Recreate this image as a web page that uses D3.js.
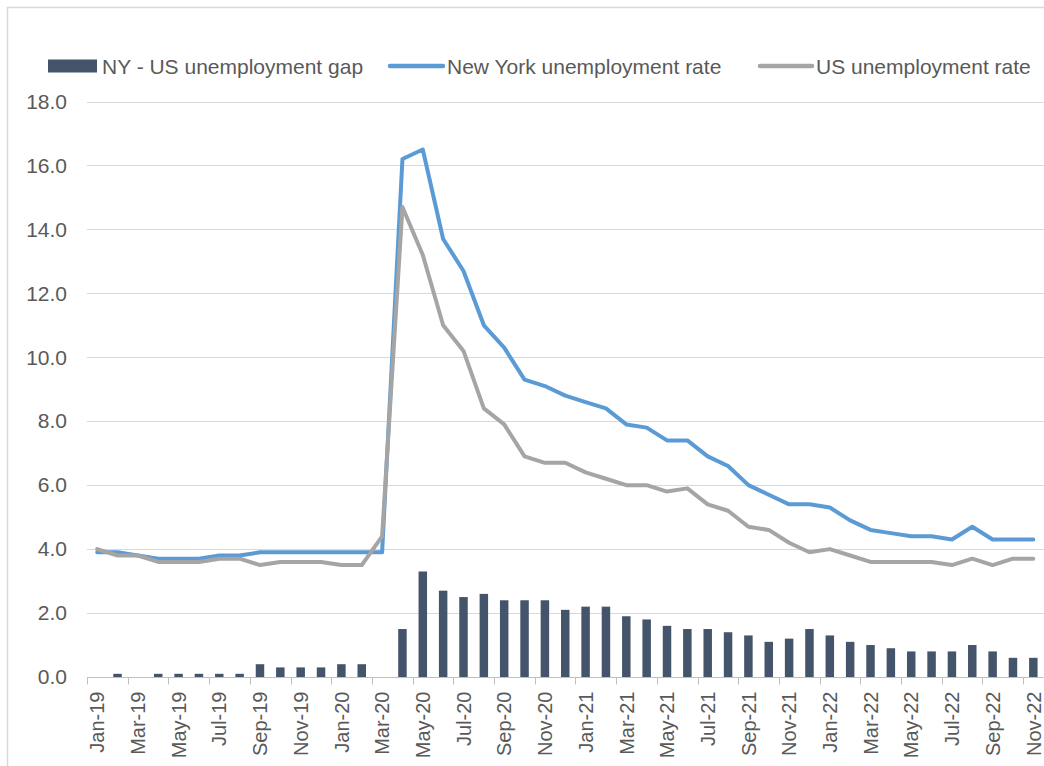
<!DOCTYPE html>
<html>
<head>
<meta charset="utf-8">
<script src="https://cdn.jsdelivr.net/npm/d3@7"></script>
<style>
  html, body { margin: 0; padding: 0; background: #fff; }
  svg { display: block; font-family: "Liberation Sans", Arial, sans-serif; }
</style>
</head>
<body>
<svg id="chart" width="1044" height="766"></svg>
<script>
const months = ["Jan-19","Feb-19","Mar-19","Apr-19","May-19","Jun-19","Jul-19","Aug-19","Sep-19","Oct-19","Nov-19","Dec-19",
  "Jan-20","Feb-20","Mar-20","Apr-20","May-20","Jun-20","Jul-20","Aug-20","Sep-20","Oct-20","Nov-20","Dec-20",
  "Jan-21","Feb-21","Mar-21","Apr-21","May-21","Jun-21","Jul-21","Aug-21","Sep-21","Oct-21","Nov-21","Dec-21",
  "Jan-22","Feb-22","Mar-22","Apr-22","May-22","Jun-22","Jul-22","Aug-22","Sep-22","Oct-22","Nov-22"];

const nyRate = [3.9,3.9,3.8,3.7,3.7,3.7,3.8,3.8,3.9,3.9,3.9,3.9,
  3.9,3.9,3.9,16.2,16.5,13.7,12.7,11.0,10.3,9.3,9.1,8.8,
  8.6,8.4,7.9,7.8,7.4,7.4,6.9,6.6,6.0,5.7,5.4,5.4,
  5.3,4.9,4.6,4.5,4.4,4.4,4.3,4.7,4.3,4.3,4.3];

const usRate = [4.0,3.8,3.8,3.6,3.6,3.6,3.7,3.7,3.5,3.6,3.6,3.6,
  3.5,3.5,4.4,14.7,13.2,11.0,10.2,8.4,7.9,6.9,6.7,6.7,
  6.4,6.2,6.0,6.0,5.8,5.9,5.4,5.2,4.7,4.6,4.2,3.9,
  4.0,3.8,3.6,3.6,3.6,3.6,3.5,3.7,3.5,3.7,3.7];

const gap = [0.0,0.1,0.0,0.1,0.1,0.1,0.1,0.1,0.4,0.3,0.3,0.3,
  0.4,0.4,0.0,1.5,3.3,2.7,2.5,2.6,2.4,2.4,2.4,2.1,
  2.2,2.2,1.9,1.8,1.6,1.5,1.5,1.4,1.3,1.1,1.2,1.5,
  1.3,1.1,1.0,0.9,0.8,0.8,0.8,1.0,0.8,0.6,0.6];

const yTicks = [0,2,4,6,8,10,12,14,16,18];

const seriesNames = ["NY - US unemployment gap","New York unemployment rate","US unemployment rate"];
const colors = { gap: "#44546A", ny: "#5B9BD5", us: "#A5A5A5" };

const svg = d3.select("#chart");

// chart border
svg.append("path")
  .attr("d", "M7.5,766 V7.5 H1044")
  .attr("fill", "none").attr("stroke", "#d9d9d9").attr("stroke-width", 1.5);

const pLeft = 87, pRight = 1043.5, pTop = 101.5, pBottom = 677;

const x = d3.scaleBand().domain(months).range([pLeft, pRight]).paddingInner(0).paddingOuter(0);
const y = d3.scaleLinear().domain([0, 18]).range([pBottom, pTop]);

// gridlines
svg.append("g").selectAll("line").data(yTicks.filter(d => d > 0)).join("line")
  .attr("x1", pLeft).attr("x2", pRight)
  .attr("y1", d => Math.round(y(d)) + 0.5).attr("y2", d => Math.round(y(d)) + 0.5)
  .attr("stroke", "#d9d9d9").attr("stroke-width", 1);

// y axis labels
const yAxis = d3.axisLeft(y).tickValues(yTicks).tickFormat(d3.format(".1f")).tickSize(0).tickPadding(0);
const yg = svg.append("g").attr("transform", `translate(67,0)`).call(yAxis);
yg.select(".domain").remove();
yg.selectAll("text").attr("fill", "#595959").style("font-size", "21px")
  .style("font-family", '"Liberation Sans", Arial, sans-serif');

// bars
const bw = x.bandwidth() / 2.4;
svg.append("g").selectAll("rect").data(months).join("rect")
  .attr("x", (d) => x(d) + (x.bandwidth() - bw) / 2)
  .attr("width", bw)
  .attr("y", (d, i) => y(Math.max(0, gap[i])))
  .attr("height", (d, i) => y(0) - y(Math.max(0, gap[i])))
  .attr("fill", colors.gap);

// x axis
const xAxis = d3.axisBottom(x)
  .tickValues(months.filter((d, i) => i % 2 === 0))
  .tickSize(0).tickPadding(0);
const xg = svg.append("g").attr("transform", `translate(0,${Math.round(pBottom) + 0.5})`).call(xAxis);
xg.select(".domain").attr("stroke", "#bfbfbf").attr("d", `M${pLeft},0H${pRight}`);
xg.selectAll("text")
  .attr("fill", "#595959").style("font-size", "20px")
  .style("font-family", '"Liberation Sans", Arial, sans-serif')
  .attr("text-anchor", "end")
  .attr("transform", "translate(0,14) rotate(-90)")
  .attr("x", 0).attr("y", 0).attr("dy", "0.36em");
// tick marks at category boundaries every two categories
const tickBounds = months.map((d, i) => i).filter(i => i % 2 === 0);
xg.selectAll(".bnd").data(tickBounds).join("line").attr("class", "bnd")
  .attr("x1", i => Math.round(x(months[i])) + 0.5).attr("x2", i => Math.round(x(months[i])) + 0.5)
  .attr("y1", 0).attr("y2", 7).attr("stroke", "#bfbfbf");

// lines
const line = d3.line().x((d, i) => x(months[i]) + x.bandwidth() / 2).y(d => y(d));
svg.append("path").datum(nyRate).attr("d", line)
  .attr("fill", "none").attr("stroke", colors.ny).attr("stroke-width", 4)
  .attr("stroke-linejoin", "round").attr("stroke-linecap", "round");
svg.append("path").datum(usRate).attr("d", line)
  .attr("fill", "none").attr("stroke", colors.us).attr("stroke-width", 4)
  .attr("stroke-linejoin", "round").attr("stroke-linecap", "round");

// legend
const lg = svg.append("g").style("font-size", "21px").attr("fill", "#595959");
lg.append("rect").attr("x", 48).attr("y", 59.5).attr("width", 49).attr("height", 13).attr("fill", colors.gap);
lg.append("text").attr("x", 102).attr("y", 73.5).text(seriesNames[0]);
lg.append("line").attr("x1", 390).attr("x2", 443).attr("y1", 66).attr("y2", 66)
  .attr("stroke", colors.ny).attr("stroke-width", 4.5).attr("stroke-linecap", "round");
lg.append("text").attr("x", 447).attr("y", 73.5).text(seriesNames[1]);
lg.append("line").attr("x1", 760).attr("x2", 812).attr("y1", 66).attr("y2", 66)
  .attr("stroke", colors.us).attr("stroke-width", 4.5).attr("stroke-linecap", "round");
lg.append("text").attr("x", 816).attr("y", 73.5).text(seriesNames[2]);
</script>
</body>
</html>
